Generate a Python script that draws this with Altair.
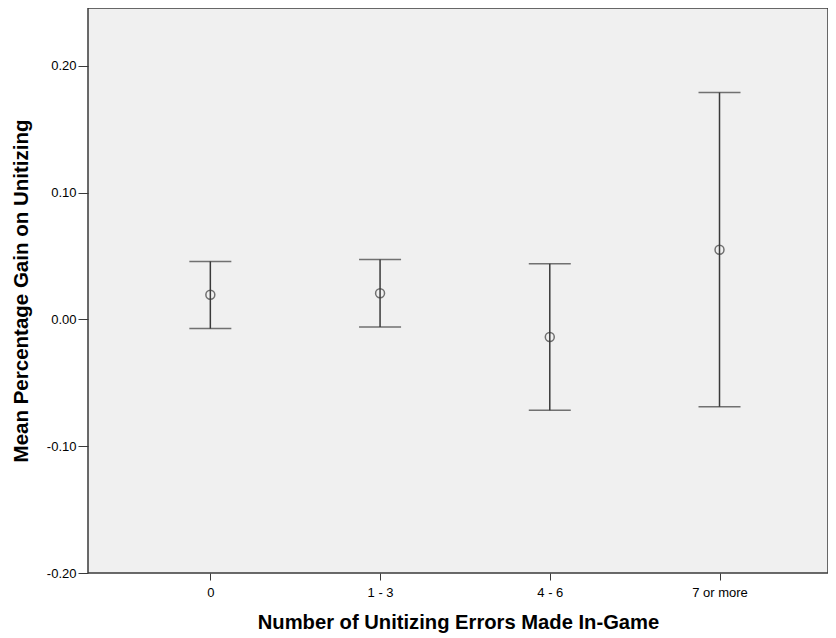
import altair as alt
import pandas as pd

categories = ["0", "1 - 3", "4 - 6", "7 or more"]
means = [0.0194, 0.0206, -0.0139, 0.0549]
lowers = [-0.0073, -0.0060, -0.0716, -0.0690]
uppers = [0.0457, 0.0471, 0.0439, 0.1788]
y_ticks = [-0.20, -0.10, 0.00, 0.10, 0.20]

df = pd.DataFrame({"cat": categories, "mean": means, "lo": lowers, "hi": uppers})

FONT = "Liberation Sans"
INK = "#3a3a3a"

x_enc = alt.X(
    "cat:N",
    sort=categories,
    scale=alt.Scale(type="point", padding=0.68, align=0.53),
    axis=alt.Axis(
        title="Number of Unitizing Errors Made In-Game",
        titleFont=FONT, titleFontSize=20.2, titleFontWeight="bold", titleColor="black",
        titlePadding=13,
        labelFont=FONT, labelFontSize=13, labelColor="black", labelAngle=0, labelPadding=6,
        tickSize=7, tickColor=INK, domain=False, grid=False,
    ),
)
y_scale = alt.Scale(domain=[-0.20, 0.2455], nice=False, zero=False)
y_axis = alt.Axis(
    title="Mean Percentage Gain on Unitizing",
    titleFont=FONT, titleFontSize=20.5, titleFontWeight="bold", titleColor="black",
    titlePadding=15,
    labelFont=FONT, labelFontSize=13, labelColor="black", labelPadding=2,
    values=y_ticks, format=".2f",
    labelExpr="replace(datum.label, '\u2212', '-')",
    tickSize=10, tickColor=INK, domain=False, grid=False,
)

base = alt.Chart(df)

stems = base.mark_rule(color=INK, strokeWidth=1.5).encode(
    x=x_enc,
    y=alt.Y("lo:Q", scale=y_scale, axis=y_axis),
    y2="hi:Q",
)
caps_hi = base.mark_tick(color=INK, thickness=1.5, size=42, orient="horizontal").encode(
    x=alt.X("cat:N", sort=categories), y=alt.Y("hi:Q")
)
caps_lo = base.mark_tick(color=INK, thickness=1.5, size=42, orient="horizontal").encode(
    x=alt.X("cat:N", sort=categories), y=alt.Y("lo:Q")
)
points = base.mark_point(shape="circle", filled=False, color=INK, strokeWidth=1.5, size=80).encode(
    x=alt.X("cat:N", sort=categories), y=alt.Y("mean:Q")
)

chart = (
    alt.layer(stems, caps_hi, caps_lo, points)
    .properties(
        width=740,
        height=565,
        autosize=alt.AutoSizeParams(type="none"),
        padding={"left": 80, "top": 0, "right": 0, "bottom": 70},
        background="white",
    )
    .configure_view(fill="#f0f0f0", stroke=INK, strokeWidth=1.5)
)

chart.save("out.html", embed_options={"renderer": "svg", "actions": False})
